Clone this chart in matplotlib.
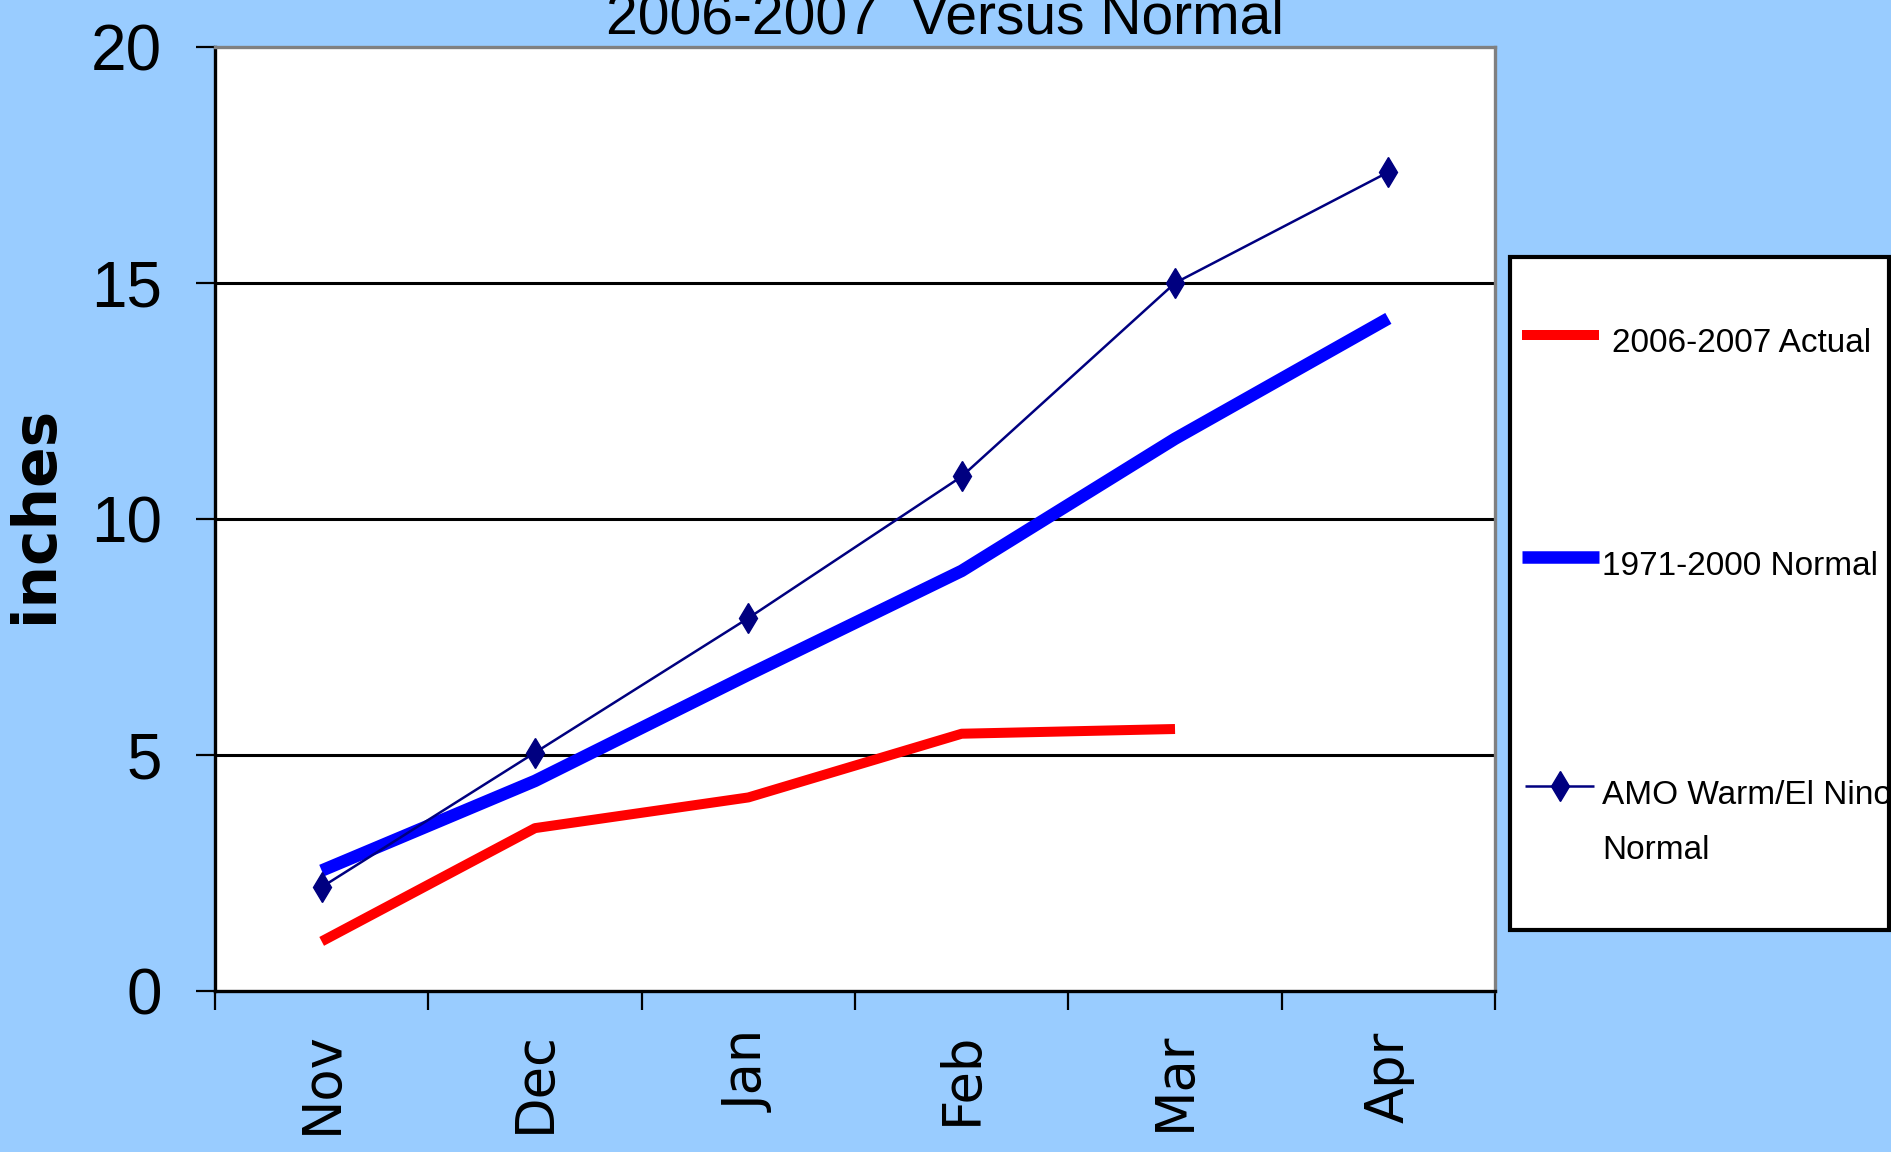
import numpy as np
import matplotlib
matplotlib.use("Agg")
import matplotlib.pyplot as plt
from matplotlib.lines import Line2D
from matplotlib.patches import Rectangle

# monthly cumulative snowfall, inches
months = ["Nov", "Dec", "Jan", "Feb", "Mar", "Apr"]
actual_0607 = [1.05, 3.45, 4.1, 5.45, 5.55]
normal_7100 = [2.55, 4.45, 6.7, 8.9, 11.7, 14.25]
amo_elnino = [2.2, 5.05, 7.9, 10.9, 15.0, 17.35]
series_names = ["2006-2007 Actual", "1971-2000 Normal", "AMO Warm/El Nino\nNormal"]
y_ticks = [0, 5, 10, 15, 20]

bg = "#99CCFF"
sans = ["Liberation Sans", "DejaVu Sans"]

fig = plt.figure(figsize=(18.91, 11.52), dpi=100, facecolor=bg)
ax = fig.add_axes([0.1137, 0.1398, 0.6769, 0.8194])
ax.set_facecolor("white")

x = np.arange(len(months)) + 0.5
ax.plot(x[:len(actual_0607)], actual_0607, color="#FF0000", lw=7.2,
        solid_capstyle="butt", zorder=3)
ax.plot(x, normal_7100, color="#0000FF", lw=9.0, solid_capstyle="butt", zorder=4)
ax.plot(x, amo_elnino, color="#000080", lw=1.8, marker="d", ms=15,
        zorder=5)

ax.set_xlim(0, len(months))
ax.set_ylim(0, 20)

for v in y_ticks[1:-1]:
    ax.axhline(v, color="black", lw=2.2, zorder=1)

ax.set_yticks(y_ticks)
ax.set_yticklabels([str(v) for v in y_ticks], fontfamily=sans, fontsize=46)
ax.tick_params(axis="y", direction="out", length=14, width=1.6, pad=24)

ax.set_xticks(np.arange(len(months) + 1))
ax.set_xticklabels([])
ax.set_xticks(x, minor=True)
ax.set_xticklabels(months, minor=True, rotation=90, fontsize=38,
                   fontfamily="DejaVu Sans")
ax.tick_params(axis="x", which="major", direction="out", length=14, width=1.6)
ax.tick_params(axis="x", which="minor", length=0, pad=29)

for s in ["left", "bottom"]:
    ax.spines[s].set_color("black")
    ax.spines[s].set_linewidth(2.4)
for s in ["top", "right"]:
    ax.spines[s].set_color("#808080")
    ax.spines[s].set_linewidth(2.4)

ax.set_ylabel("inches", fontsize=43, fontweight="bold", fontfamily="DejaVu Sans")
ax.yaxis.set_label_coords(-0.1175, 0.505)

fig.text(0.5, 1 - 34 / 1152, "2006-2007  Versus Normal", ha="center",
         va="baseline", fontsize=41, fontfamily=sans)

# legend box drawn by hand to keep Excel-like spacing
fig.add_artist(Rectangle((1510 / 1891, 1 - 930 / 1152), 379 / 1891, 673 / 1152,
                         transform=fig.transFigure, facecolor="white",
                         edgecolor="black", lw=3))
handles = [
    dict(color="#FF0000", lw=7.2, y=335, x0=1522, x1=1599, tx=1612, ty=352),
    dict(color="#0000FF", lw=9.0, y=557, x0=1522, x1=1599, tx=1602, ty=575),
    dict(color="#000080", lw=1.8, y=786, x0=1525, x1=1594, tx=1602, ty=859),
]
for name, h in zip(series_names, handles):
    yy = 1 - h["y"] / 1152
    fig.add_artist(Line2D([h["x0"] / 1891, h["x1"] / 1891], [yy, yy],
                          transform=fig.transFigure, color=h["color"],
                          lw=h["lw"], solid_capstyle="butt"))
    # va=baseline puts the last line of the label on ty
    fig.text(h["tx"] / 1891, 1 - h["ty"] / 1152, name, ha="left", va="baseline",
             fontsize=24, fontfamily=sans, linespacing=2.0)
fig.add_artist(Line2D([(1525 + 1594) / 2 / 1891], [1 - 786 / 1152],
                      transform=fig.transFigure, color="#000080", marker="d",
                      ms=15, lw=0))

fig.savefig("out.png", dpi=100, facecolor=bg)
